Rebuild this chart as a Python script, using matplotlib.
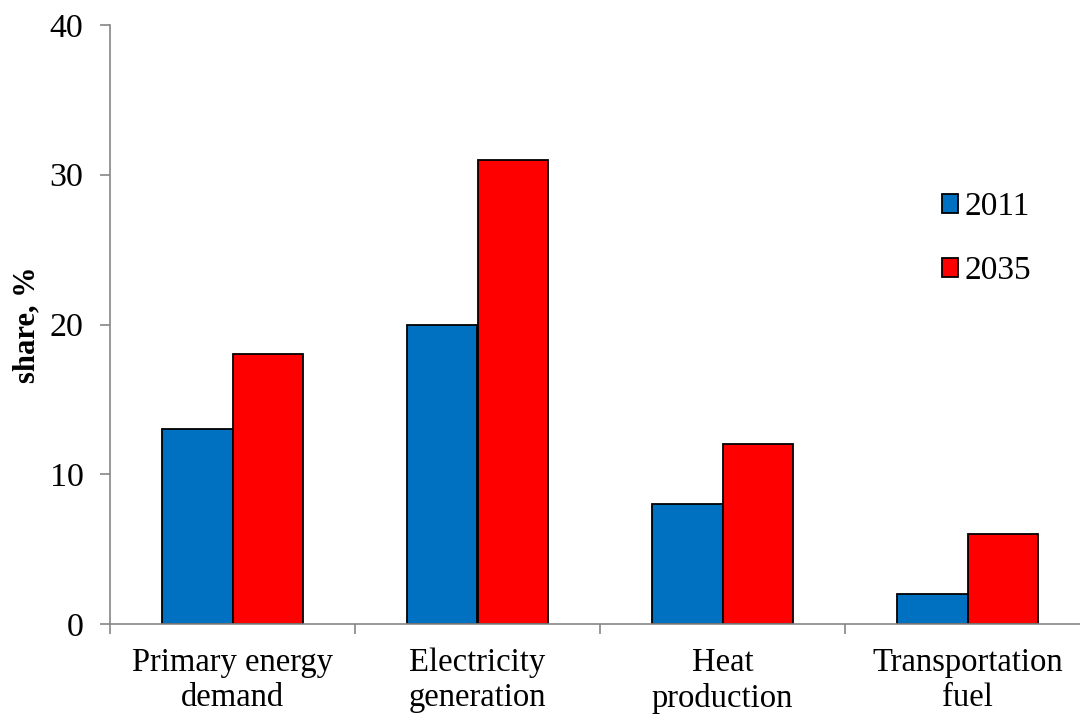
import numpy as np
import matplotlib.pyplot as plt

categories = ["Primary energy\ndemand", "Electricity\ngeneration", "Heat\nproduction", "Transportation\nfuel"]
share_2011 = [13, 20, 8, 2]
share_2035 = [18, 31, 12, 6]

plt.rcParams['font.family'] = ['Liberation Serif', 'DejaVu Serif']

fig = plt.figure(figsize=(10.8, 7.15), dpi=100)
ax = fig.add_axes([110/1080, 91/715, 980/1080, 599/715])

x = np.arange(len(categories))
w = 0.286
ax.bar(x - w/2, share_2011, w, color='#0070C0', edgecolor='black', linewidth=1.3, label='2011')
ax.bar(x + w/2, share_2035, w, color='#FF0000', edgecolor='black', linewidth=1.3, label='2035')

ax.set_xlim(-0.5, len(categories) - 0.5)
ax.set_ylim(0, 40)
ax.set_yticks([0, 10, 20, 30, 40])
ax.set_xticks(x)
ax.set_xticklabels(categories, fontsize=23.5, linespacing=1.2)
ax.set_xticks(np.arange(len(categories) + 1) - 0.5, minor=True)
ax.tick_params(axis='x', which='major', length=0, pad=17)
ax.tick_params(axis='x', which='minor', length=7, width=1.2, color='#868686', direction='out')
ax.tick_params(axis='y', length=7, width=1.2, color='#868686', labelsize=24.5, pad=12)

for s in ['top', 'right']:
    ax.spines[s].set_visible(False)
for s in ['left', 'bottom']:
    ax.spines[s].set_color('#868686')
    ax.spines[s].set_linewidth(1.2)

ax.set_ylabel('share, %', fontsize=22, fontweight='bold', labelpad=6)

ax.legend(loc='upper left', bbox_to_anchor=(0.818, 0.772), frameon=False, fontsize=24,
          handlelength=0.5, handleheight=0.5, handletextpad=0.2, labelspacing=1.0)

fig.savefig('out.png', dpi=100)
